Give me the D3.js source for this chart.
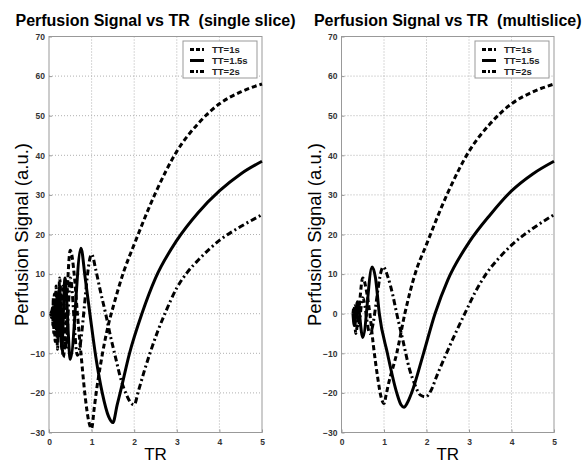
<!DOCTYPE html>
<html>
<head>
<meta charset="utf-8">
<script src="https://cdn.jsdelivr.net/npm/d3@7"></script>
<style>
  body { margin: 0; background: #fff; }
  svg { display: block; font-family: "Liberation Sans", Arial, Helvetica, sans-serif; }
  .title { white-space: pre; }
</style>
</head>
<body>
<div id="chart"></div>
<script>
const
  width = 587,
  height = 466;

// TR (s) vs perfusion signal (a.u.)
const singleTT1 = [
  [0.04, 0], [0.06, -1], [0.083, 2], [0.091, -3], [0.1, 4], [0.111, -5], [0.125, 5],
  [0.143, -7], [0.167, 7], [0.2, -9], [0.25, 9], [0.333, -11], [0.5, 16], [0.6, 9],
  [0.667, 0], [0.75, -10], [0.85, -21], [0.93, -27], [1.0, -29], [1.06, -24], [1.12, -19],
  [1.2, -13.5], [1.3, -7.5], [1.4, -2.5], [1.5, 1.5], [1.75, 10.5], [2, 17.5], [2.5, 30.5],
  [3, 41], [3.5, 48], [4, 53], [4.5, 56], [5, 58]
];
const singleTT15 = [
  [0.04, 0], [0.06, 0.5], [0.1, 1], [0.125, -2], [0.15, 3], [0.167, -4], [0.1875, 5],
  [0.214, -6], [0.25, 7], [0.3, -9], [0.375, 9], [0.5, -11.5], [0.75, 16.5], [0.85, 9],
  [0.96, 0], [1.1, -11], [1.25, -20], [1.4, -26], [1.5, -27.5], [1.6, -23], [1.67, -20],
  [1.89, -10], [2.18, 0], [2.5, 9], [3, 18.5], [3.5, 25.5], [4, 31], [4.5, 35.3], [5, 38.5]
];
const singleTT2 = [
  [0.04, 0], [0.08, 0], [0.13, 1], [0.167, -2], [0.2, 3], [0.222, -4], [0.25, 5],
  [0.286, -6], [0.333, 7], [0.4, -9], [0.5, 9], [0.667, -10.5], [1.0, 15], [1.1, 11],
  [1.2, 6], [1.33, 0], [1.45, -6], [1.55, -10.5], [1.7, -17], [1.82, -20.5], [1.92, -22.5],
  [2.0, -23], [2.1, -19.5], [2.25, -14], [2.37, -10], [2.55, -4.5], [2.72, 0], [3, 6.5],
  [3.25, 10.5], [3.5, 13.5], [4, 18.5], [4.5, 22], [5, 25]
];

const multiTT1 = [
  [0.27, 0], [0.3, 2], [0.333, -5], [0.4, 0], [0.5, 9], [0.6, 5], [0.667, 0], [0.75, -8],
  [0.85, -16], [0.93, -21], [1.0, -22.7], [1.05, -20.5], [1.1, -18], [1.3, -10], [1.49, 0],
  [1.73, 10], [2, 17.5], [2.5, 30.5], [3, 41], [3.5, 48], [4, 53], [4.5, 56], [5, 58]
];
const multiTT15 = [
  [0.27, 0], [0.3, -3], [0.375, 3], [0.5, -6], [0.72, 11.8], [0.8, 9], [0.89, 0],
  [1.08, -10], [1.3, -20], [1.4, -23], [1.47, -23.6], [1.55, -22.5], [1.65, -20],
  [1.93, -10], [2.2, 0], [2.5, 8.5], [3, 18], [3.5, 25], [4, 31], [4.5, 35.3], [5, 38.5]
];
const multiTT2 = [
  [0.28, 0], [0.333, 2], [0.4, -3], [0.5, 4], [0.667, -5], [0.98, 11.8], [1.1, 9],
  [1.2, 5], [1.3, 0], [1.45, -7], [1.6, -14], [1.73, -18], [1.85, -20.5], [1.98, -21],
  [2.1, -19.5], [2.25, -15.5], [2.47, -10], [2.7, -4.5], [2.9, 0], [3.15, 5.5],
  [3.4, 10], [3.7, 14], [4, 17.3], [4.5, 21.5], [5, 25]
];

const legendLabels = ["TT=1s", "TT=1.5s", "TT=2s"];
const xTicks = [0, 1, 2, 3, 4, 5];
const yTicks = [-30, -20, -10, 0, 10, 20, 30, 40, 50, 60, 70];

const panels = [
  { title: "Perfusion Signal vs TR  (single slice)", left: 49, right: 262,
    series: [singleTT1, singleTT15, singleTT2] },
  { title: "Perfusion Signal vs TR  (multislice)", left: 341.5, right: 554,
    series: [multiTT1, multiTT15, multiTT2] }
];

const
  plotTop = 36.5,
  plotBottom = 432.5;

// line styles for TT=1s, 1.5s, 2s
const dashes = ["5,3", null, "6,3,2,3"];
const legendDashes = ["4,2", null, "4,2,2,2"];

const svg = d3.select("#chart")
  .append("svg")
  .attr("width", width)
  .attr("height", height);

panels.forEach(function (p) {
  const x = d3.scaleLinear().domain([0, 5]).range([p.left, p.right]);
  const y = d3.scaleLinear().domain([-30, 70]).range([plotBottom, plotTop]);

  const g = svg.append("g");

  // dotted grid
  g.append("g").selectAll("line")
    .data(xTicks.slice(1, -1))
    .enter().append("line")
    .attr("x1", d => x(d)).attr("x2", d => x(d))
    .attr("y1", plotTop).attr("y2", plotBottom)
    .attr("stroke", "#b0b0b0").attr("stroke-width", 1)
    .attr("stroke-dasharray", "1,2");
  g.append("g").selectAll("line")
    .data(yTicks.slice(1, -1))
    .enter().append("line")
    .attr("x1", p.left).attr("x2", p.right)
    .attr("y1", d => y(d)).attr("y2", d => y(d))
    .attr("stroke", "#b0b0b0").attr("stroke-width", 1)
    .attr("stroke-dasharray", "1,2");

  // box
  g.append("rect")
    .attr("x", p.left).attr("y", plotTop)
    .attr("width", p.right - p.left).attr("height", plotBottom - plotTop)
    .attr("fill", "none").attr("stroke", "#999").attr("stroke-width", 1);

  // axes, ticks inward
  const xAxis = g.append("g")
    .attr("transform", "translate(0," + plotBottom + ")")
    .call(d3.axisBottom(x).tickValues(xTicks).tickFormat(d3.format("d"))
      .tickSize(-3).tickPadding(6));
  const yAxis = g.append("g")
    .attr("transform", "translate(" + p.left + ",0)")
    .call(d3.axisLeft(y).tickValues(yTicks).tickFormat(d3.format("d"))
      .tickSize(-3).tickPadding(4));
  [xAxis, yAxis].forEach(function (a) {
    a.select(".domain").remove();
    a.selectAll("line").attr("stroke", "#999");
    a.selectAll("text")
      .attr("font-size", 8.5).attr("font-weight", "bold")
      .attr("fill", "#333")
      .attr("font-family", "\"Liberation Sans\", Arial, sans-serif");
  });

  // curves
  const line = d3.line()
    .x(d => x(d[0]))
    .y(d => y(d[1]))
    .curve(d3.curveMonotoneX);

  g.append("g").selectAll("path")
    .data(p.series)
    .enter().append("path")
    .attr("d", line)
    .attr("fill", "none")
    .attr("stroke", "#000")
    .attr("stroke-width", 3)
    .attr("stroke-dasharray", (d, i) => dashes[i]);

  // legend
  const lw = 74, lh = 37;
  const lg = g.append("g")
    .attr("transform", "translate(" + (p.right - 5 - lw) + "," + (plotTop + 4.5) + ")");
  lg.append("rect")
    .attr("width", lw).attr("height", lh)
    .attr("fill", "#fff").attr("stroke", "#999").attr("stroke-width", 1);
  const rows = lg.selectAll("g")
    .data(legendLabels)
    .enter().append("g")
    .attr("transform", (d, i) => "translate(0," + [8.5, 19.5, 30.5][i] + ")");
  rows.append("line")
    .attr("x1", 7).attr("x2", 21)
    .attr("stroke", "#000").attr("stroke-width", 3)
    .attr("stroke-dasharray", (d, i) => legendDashes[i]);
  rows.append("text")
    .attr("x", 29).attr("dy", "0.35em")
    .attr("font-size", 9.5).attr("font-weight", "bold").attr("fill", "#222")
    .text(d => d);

  // labels
  const cx = (p.left + p.right) / 2;
  g.append("text")
    .attr("class", "title")
    .attr("x", cx).attr("y", 26)
    .attr("text-anchor", "middle")
    .attr("font-size", 16).attr("font-weight", "bold")
    .text(p.title);
  g.append("text")
    .attr("x", cx).attr("y", 460)
    .attr("text-anchor", "middle")
    .attr("font-size", 17)
    .text("TR");
  g.append("text")
    .attr("transform", "translate(" + (p.left - 21) + "," + ((plotTop + plotBottom) / 2) + ") rotate(-90)")
    .attr("text-anchor", "middle")
    .attr("font-size", 18.5)
    .text("Perfusion Signal (a.u.)");
});
</script>
</body>
</html>
